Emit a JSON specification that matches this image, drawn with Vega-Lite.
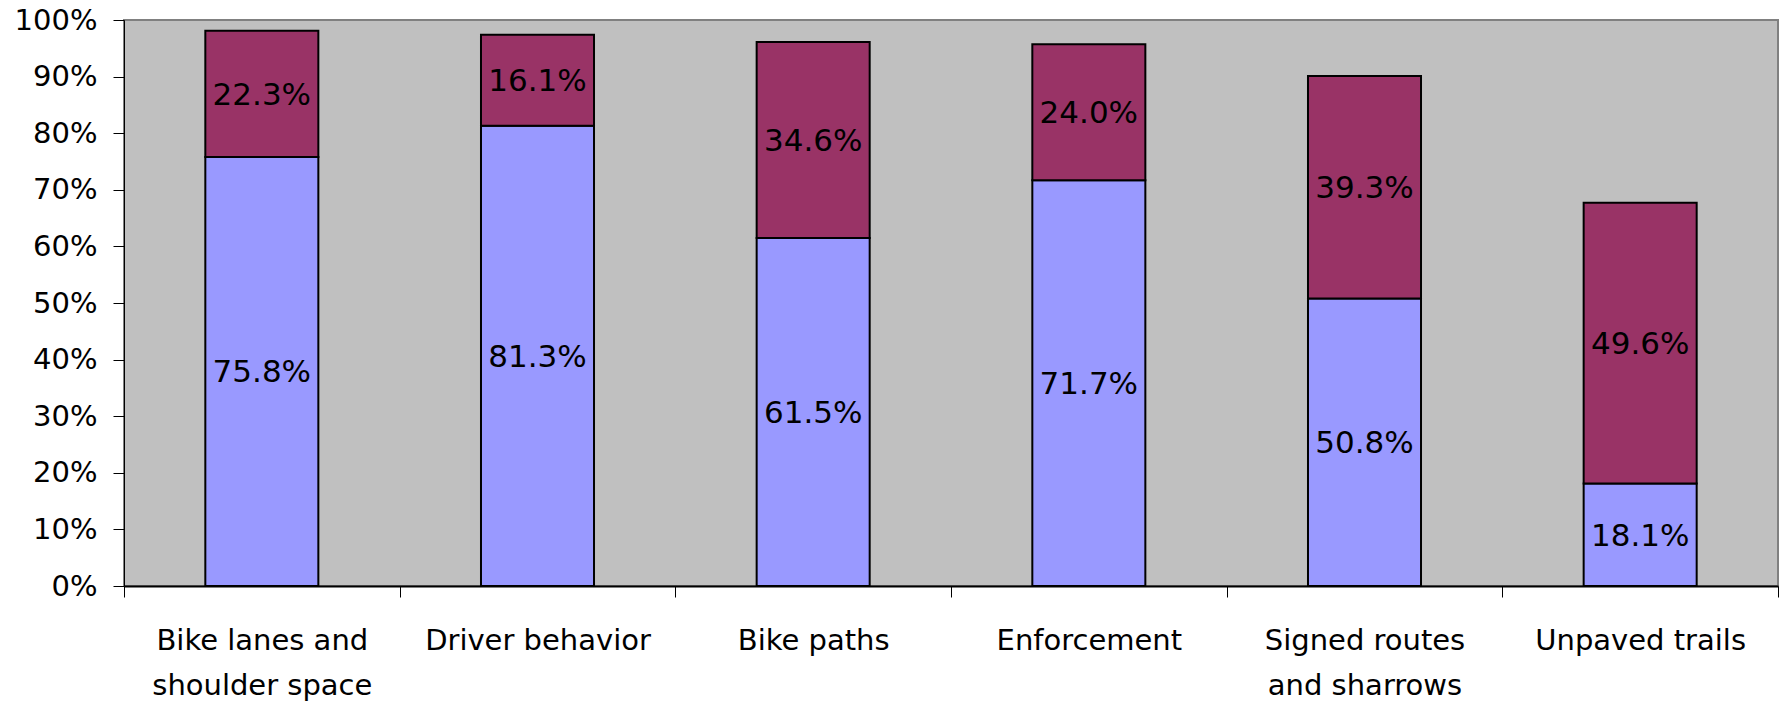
{
  "$schema": "https://vega.github.io/schema/vega-lite/v6.json",
  "width": 1654,
  "height": 566,
  "autosize": {"type": "none"},
  "padding": {"left": 124, "top": 20, "right": 7, "bottom": 116},
  "background": "white",
  "config": {
    "view": {"fill": "#C0C0C0", "stroke": "#808080", "strokeWidth": 2},
    "font": "DejaVu Sans",
    "axis": {
      "grid": false,
      "domainColor": "black",
      "tickColor": "black",
      "labelColor": "black",
      "labelFont": "DejaVu Sans",
      "labelFontSize": 29,
      "tickSize": 11,
      "tickWidth": 1
    }
  },
  "data": {
    "values": [
      {"category": "Bike lanes and shoulder space", "series": "Very important", "value": 0.758},
      {"category": "Bike lanes and shoulder space", "series": "Somewhat important", "value": 0.223},
      {"category": "Driver behavior", "series": "Very important", "value": 0.813},
      {"category": "Driver behavior", "series": "Somewhat important", "value": 0.161},
      {"category": "Bike paths", "series": "Very important", "value": 0.615},
      {"category": "Bike paths", "series": "Somewhat important", "value": 0.346},
      {"category": "Enforcement", "series": "Very important", "value": 0.717},
      {"category": "Enforcement", "series": "Somewhat important", "value": 0.240},
      {"category": "Signed routes and sharrows", "series": "Very important", "value": 0.508},
      {"category": "Signed routes and sharrows", "series": "Somewhat important", "value": 0.393},
      {"category": "Unpaved trails", "series": "Very important", "value": 0.181},
      {"category": "Unpaved trails", "series": "Somewhat important", "value": 0.496}
    ]
  },
  "encoding": {
    "x": {
      "field": "category",
      "type": "nominal",
      "sort": null,
      "title": null,
      "scale": {"paddingInner": 0, "paddingOuter": 0},
      "axis": {
        "labelAngle": 0,
        "tickBand": "extent",
        "labelPadding": 29,
        "labelLineHeight": 45,
        "labelLimit": 400,
        "labelOverlap": false,
        "domainWidth": 2,
        "labelExpr": "datum.value == 'Bike lanes and shoulder space' ? ['Bike lanes and', 'shoulder space'] : datum.value == 'Signed routes and sharrows' ? ['Signed routes', 'and sharrows'] : datum.value"
      }
    }
  },
  "layer": [
    {
      "mark": {"type": "bar", "width": {"band": 0.41}, "stroke": "black", "strokeWidth": 2},
      "encoding": {
        "y": {
          "field": "value",
          "type": "quantitative",
          "stack": "zero",
          "title": null,
          "scale": {"domain": [0, 1], "nice": false},
          "axis": {"format": ".0%", "values": [0, 0.1, 0.2, 0.3, 0.4, 0.5, 0.6, 0.7, 0.8, 0.9, 1], "labelPadding": 16, "domainWidth": 1}
        },
        "color": {
          "field": "series",
          "type": "nominal",
          "scale": {"domain": ["Very important", "Somewhat important"], "range": ["#9999FF", "#993366"]},
          "legend": null
        },
        "order": {"field": "series", "sort": "descending"}
      }
    },
    {
      "transform": [
        {"stack": "value", "groupby": ["category"], "sort": [{"field": "series", "order": "descending"}], "as": ["v0", "v1"]},
        {"fold": ["v0", "v1"], "as": ["edge", "pos"]},
        {"aggregate": [{"op": "mean", "field": "pos", "as": "mid"}, {"op": "max", "field": "value", "as": "value"}], "groupby": ["category", "series"]}
      ],
      "mark": {"type": "text", "fontSize": 31, "color": "black", "font": "DejaVu Sans", "dy": 2},
      "encoding": {
        "y": {
          "field": "mid",
          "type": "quantitative",
          "title": null,
          "axis": {"format": ".0%", "values": [0, 0.1, 0.2, 0.3, 0.4, 0.5, 0.6, 0.7, 0.8, 0.9, 1], "labelPadding": 16, "domainWidth": 1}
        },
        "text": {"field": "value", "type": "quantitative", "format": ".1%"}
      }
    }
  ]
}
